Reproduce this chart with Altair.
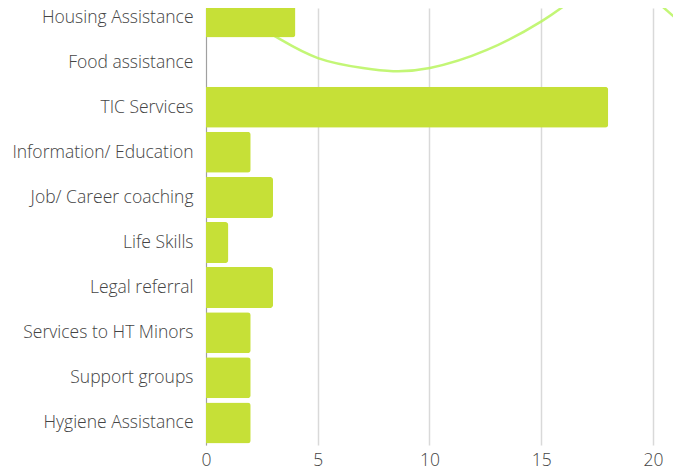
import altair as alt
import pandas as pd

categories = ["Housing Assistance", "Food assistance", "TIC Services",
              "Information/ Education", "Job/ Career coaching", "Life Skills",
              "Legal referral", "Services to HT Minors", "Support groups",
              "Hygiene Assistance"]
values = [4, 0, 18, 2, 3, 1, 3, 2, 2, 2]

# decorative arcs (x in value units, y in row units)
arc_id = ["a"] * 10 + ["b"] * 2
arc_x = [1.52, 2.42, 3.31, 5.01, 7.02, 8.37, 10.02, 12.57, 15.03, 16.38, 20.09, 21.25]
arc_y = [-0.04, 0.24, 0.49, 0.91, 1.13, 1.20, 1.13, 0.73, 0.09, -0.38, -0.38, 0.13]
x_ticks = [0, 5, 10, 15, 20]

rows = list(range(len(categories)))
bars_df = pd.DataFrame({"cat": categories, "val": values, "row": rows})
arc_df = pd.DataFrame({"arc": arc_id, "x": arc_x, "y": arc_y, "o": list(range(len(arc_x)))})

FONT = "Open Sans"
FS = 17.5
xscale = alt.Scale(domain=[0, 20.9], nice=False, padding=0)
yscale = alt.Scale(domain=[-0.2, 9.49], reverse=True, nice=False, zero=False, padding=0)

label_expr = "[" + ",".join("'" + c + "'" for c in categories) + "][round(datum.value)]"

xaxis = alt.Axis(values=x_ticks, grid=True, gridColor="#d9d9d9", gridWidth=1.5,
                 domain=False, ticks=False, tickSize=0, labelPadding=6, labelFlush=False,
                 labelFont=FONT, labelFontSize=FS, labelColor="#444444",
                 labelFontWeight=300, format="d")
yaxis = alt.Axis(values=rows, labelExpr=label_expr, grid=False,
                 domain=True, domainColor="#a0a0a0", domainWidth=1, ticks=False,
                 tickSize=0, labelPadding=13, labelFont=FONT, labelFontSize=FS,
                 labelColor="#444444", labelFontWeight=300, labelLimit=400,
                 labelFlush=False, labelOverlap=False)

arcs = alt.Chart(arc_df).mark_line(
    color="#b8f55e", strokeWidth=2.5, opacity=0.85, clip=True, interpolate="natural"
).encode(
    x=alt.X("x:Q", scale=xscale, title=None, axis=xaxis),
    y=alt.Y("y:Q", scale=yscale, title=None, axis=yaxis),
    detail="arc:N",
    order="o:Q",
)

bars = alt.Chart(bars_df).mark_bar(
    color="#c6e037", cornerRadiusTopRight=3, cornerRadiusBottomRight=3,
    height=41, orient="horizontal"
).encode(
    x=alt.X("val:Q", scale=xscale, title=None, axis=xaxis),
    y=alt.Y("row:Q", scale=yscale, title=None, axis=yaxis),
    tooltip=["cat:N", "val:Q"],
)

chart = alt.layer(arcs, bars).properties(
    width=467, height=437,
    autosize=alt.AutoSizeParams(type="none"),
    padding={"left": 198, "top": 0, "right": 0, "bottom": 30},
).configure_view(stroke=None)

chart.save("out.html", embed_options={"renderer": "svg", "actions": False})
